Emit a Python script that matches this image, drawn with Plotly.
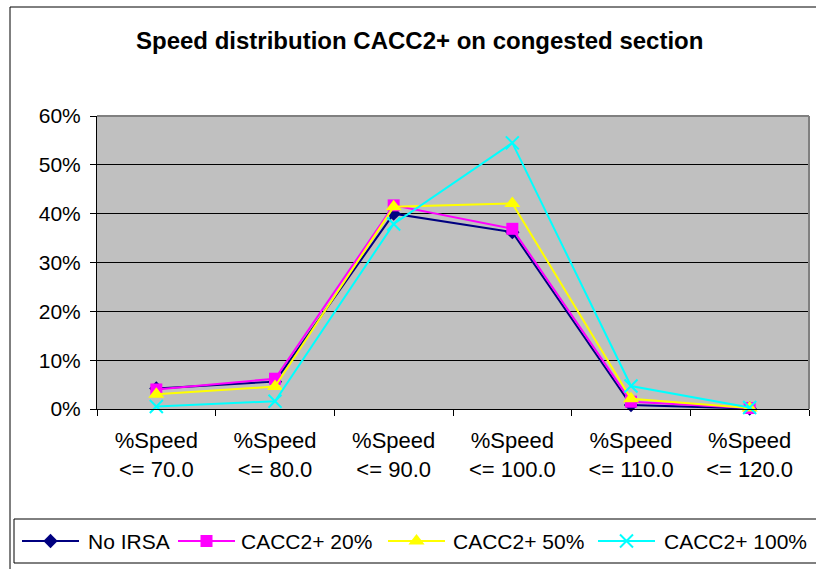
import plotly.graph_objects as go

# data
categories = ['%Speed<br>&lt;= 70.0', '%Speed<br>&lt;= 80.0', '%Speed<br>&lt;= 90.0',
              '%Speed<br>&lt;= 100.0', '%Speed<br>&lt;= 110.0', '%Speed<br>&lt;= 120.0']
series_names = ['No IRSA', 'CACC2+ 20%', 'CACC2+ 50%', 'CACC2+ 100%']
no_irsa = [0.042, 0.056, 0.400, 0.362, 0.008, 0.001]
cacc_20 = [0.040, 0.062, 0.417, 0.369, 0.015, 0.002]
cacc_50 = [0.030, 0.046, 0.414, 0.421, 0.021, 0.002]
cacc_100 = [0.005, 0.016, 0.379, 0.545, 0.047, 0.003]
y_ticks = [0, 0.1, 0.2, 0.3, 0.4, 0.5, 0.6]

W, H = 816, 569
FONT = 'Liberation Sans, Arial, sans-serif'

styles = [
    dict(color='#000080', symbol='diamond', size=11, lw=0),
    dict(color='#FF00FF', symbol='square', size=12, lw=0),
    dict(color='#FFFF00', symbol='triangle-up', size=14, lw=0),
    dict(color='#00FFFF', symbol='x-thin-open', size=13, lw=2),
]
values = [no_irsa, cacc_20, cacc_50, cacc_100]


def px_x(p):
    return p / W


def px_y(p):
    return 1 - p / H


fig = go.Figure()

for name, vals, st in zip(series_names, values, styles):
    fig.add_trace(go.Scatter(
        x=categories, y=vals, name=name, mode='lines+markers',
        line=dict(color=st['color'], width=2),
        marker=dict(symbol=st['symbol'], size=st['size'], color=st['color'],
                    line=dict(color=st['color'], width=st['lw'])),
        showlegend=False, cliponaxis=False,
    ))

# hand-drawn legend on a pixel-space overlay axis
legend_lines = [(22, 79), (178, 235), (388, 445), (598, 655)]
legend_text_x = [86, 239, 451, 662]
legend_y = 541
for name, st, (x0, x1), tx in zip(series_names, styles, legend_lines, legend_text_x):
    fig.add_trace(go.Scatter(
        x=[x0, (x0 + x1) / 2, x1], y=[legend_y] * 3, mode='lines+markers',
        line=dict(color=st['color'], width=2),
        marker=dict(symbol=st['symbol'], size=st['size'], color=st['color'],
                    opacity=[0, 1, 0], line=dict(color=st['color'], width=st['lw'])),
        xaxis='x2', yaxis='y2', showlegend=False, hoverinfo='skip',
    ))
    fig.add_annotation(x=px_x(tx), y=px_y(legend_y), xref='paper', yref='paper',
                       text=name, showarrow=False, xanchor='left', yanchor='middle',
                       font=dict(family=FONT, size=21, color='black'))

plot_left, plot_right, plot_top, plot_bottom = 97, 809, 116, 409

fig.update_layout(
    width=W, height=H,
    margin=dict(l=0, r=0, t=0, b=0),
    paper_bgcolor='white',
    plot_bgcolor='rgba(0,0,0,0)',
    font=dict(family=FONT, size=22, color='black'),
    xaxis=dict(
        domain=[px_x(plot_left), px_x(plot_right)],
        type='category', range=[-0.5, 5.5], tickson='boundaries',
        ticks='outside', ticklen=6, tickcolor='black',
        showline=True, linecolor='black', linewidth=1,
        showgrid=False, tickangle=0, automargin=False,
        ticklabelstandoff=12,
        tickfont=dict(family=FONT, size=22),
    ),
    yaxis=dict(
        domain=[px_y(plot_bottom), px_y(plot_top)],
        range=[0, 0.6], tickvals=y_ticks, tickformat='.0%',
        ticks='outside', ticklen=6, tickcolor='black',
        showline=True, linecolor='black', linewidth=1,
        showgrid=True, gridcolor='black', gridwidth=1,
        zeroline=False, automargin=False,
        ticklabelstandoff=5,
        tickfont=dict(family=FONT, size=21),
    ),
    xaxis2=dict(domain=[0, 1], range=[0, W], visible=False, anchor='y2', fixedrange=True),
    yaxis2=dict(domain=[0, 1], range=[H, 0], visible=False, anchor='x2', fixedrange=True),
    shapes=[
        # grey plot area
        dict(type='rect', xref='x domain', yref='y domain', x0=0, x1=1, y0=0, y1=1,
             fillcolor='#C0C0C0', line=dict(width=0), layer='below'),
        # grey top/right plot border
        dict(type='line', xref='paper', yref='paper', x0=px_x(plot_left), x1=px_x(plot_right),
             y0=px_y(plot_top), y1=px_y(plot_top), line=dict(color='#808080', width=2)),
        dict(type='line', xref='paper', yref='paper', x0=px_x(plot_right), x1=px_x(plot_right),
             y0=px_y(plot_top), y1=px_y(plot_bottom), line=dict(color='#808080', width=2)),
        # outer chart frame
        dict(type='rect', xref='paper', yref='paper', x0=px_x(10), x1=1.02,
             y0=-0.05, y1=px_y(7), line=dict(color='black', width=1)),
        # legend box
        dict(type='rect', xref='paper', yref='paper', x0=px_x(14), x1=1.02,
             y0=px_y(563), y1=px_y(519), line=dict(color='black', width=1)),
    ],
    annotations=list(fig.layout.annotations) + [
        dict(x=px_x(420), y=px_y(40), xref='paper', yref='paper',
             text='<b>Speed distribution CACC2+ on congested section</b>',
             showarrow=False, xanchor='center', yanchor='middle',
             font=dict(family=FONT, size=24, color='black')),
    ],
)

fig.write_html('out.html', config={'displayModeBar': False},
               post_script="document.body.style.margin='0';")
